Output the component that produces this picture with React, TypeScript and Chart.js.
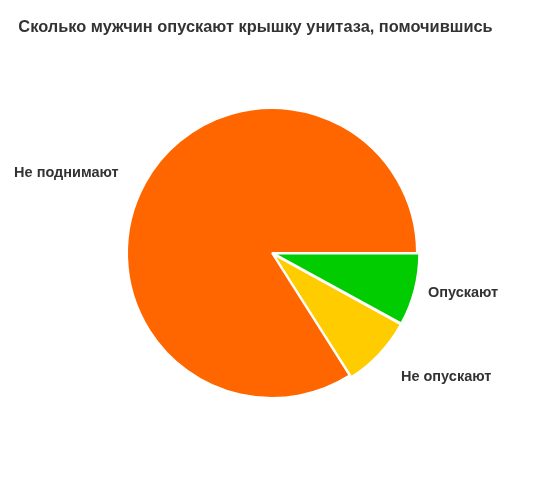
import React, { useEffect, useRef } from "react";
import { Chart, registerables } from "chart.js";

Chart.register(...registerables);

const TITLE = "Сколько мужчин опускают крышку унитаза, помочившись";
const categories = ["Опускают", "Не опускают", "Не поднимают"];
const values = [8, 8, 84];
const colors = ["#00CC00", "#FFCC00", "#FF6600"];
const offsets = [6, 6, 0];
const labelDistance = [10, 30, 22];
const labelShiftX = [0, -3, -7];

const labelPlugin = {
  id: "outsideLabels",
  afterDraw(chart: any) {
    const ctx = chart.ctx;
    ctx.save();
    ctx.fillStyle = "#333333";
    ctx.font = "bold 16.4px 'Liberation Sans', Arial, sans-serif";
    ctx.textAlign = "center";
    ctx.textBaseline = "middle";
    ctx.fillText(TITLE, 255.5, 27);

    const meta = chart.getDatasetMeta(0);
    ctx.font = "bold 14.5px 'Liberation Sans', Arial, sans-serif";
    meta.data.forEach((arc: any, i: number) => {
      const { x, y, startAngle, endAngle, outerRadius } = arc.getProps(
        ["x", "y", "startAngle", "endAngle", "outerRadius"],
        true
      );
      const mid = (startAngle + endAngle) / 2;
      const r = outerRadius + offsets[i] + labelDistance[i];
      const lx = x + Math.cos(mid) * r + labelShiftX[i];
      const ly = y + Math.sin(mid) * r;
      ctx.textAlign = Math.cos(mid) >= 0 ? "left" : "right";
      ctx.fillText(categories[i], lx, ly);
    });
    ctx.restore();
  },
};

export default function App() {
  const ref = useRef<HTMLCanvasElement | null>(null);
  useEffect(() => {
    if (!ref.current) return;
    const chart = new Chart(ref.current, {
      type: "pie",
      data: {
        labels: categories,
        datasets: [
          {
            data: values,
            backgroundColor: colors,
            borderColor: "#ffffff",
            borderWidth: 2,
            offset: offsets,
          },
        ],
      },
      options: {
        animation: false,
        responsive: false,
        rotation: 90,
        radius: 145,
        layout: { padding: { left: 0, right: 6, top: 20, bottom: 0 } },
        plugins: {
          legend: { display: false },
          tooltip: { enabled: false },
          title: { display: false },
        },
      },
      plugins: [labelPlugin],
    });
    return () => chart.destroy();
  }, []);
  return (
    <div style={{ position: "fixed", left: 0, top: 0, width: 550, height: 486, background: "#fff" }}>
      <canvas ref={ref} width={550} height={486} style={{ width: 550, height: 486 }} />
    </div>
  );
}
